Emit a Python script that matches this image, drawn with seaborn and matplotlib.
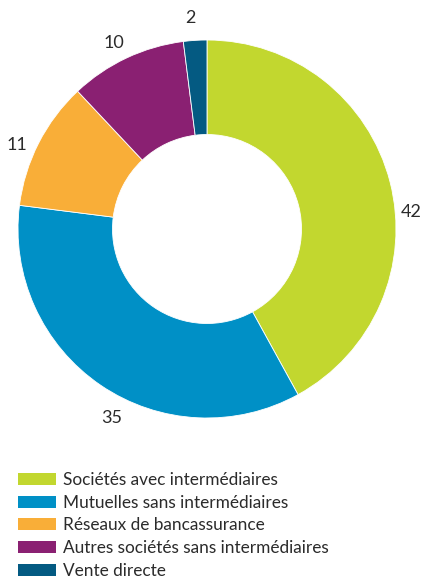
import matplotlib
matplotlib.use("Agg")
import matplotlib.pyplot as plt
from matplotlib.patches import Patch
import numpy as np
import seaborn as sns

categories = [
    "Sociétés avec intermédiaires",
    "Mutuelles sans intermédiaires",
    "Réseaux de bancassurance",
    "Autres sociétés sans intermédiaires",
    "Vente directe",
]
values = [42, 35, 11, 10, 2]
colors = ["#c2d72f", "#0090c6", "#f9ae38", "#8a2072", "#045a82"]
# where along each slice (0 = start, 1 = end) its value label sits, and how far out
label_pos = [0.564, 0.44, 0.42, 0.46, 0.36]
label_r = [1.083, 1.12, 1.10, 1.10, 1.12]

sns.set_theme(style="white")
plt.rcParams["font.family"] = ["Lato", "DejaVu Sans"]
text_color = "#2b2b2b"

W, H = 421, 579
fig = plt.figure(figsize=(W / 100, H / 100), dpi=100)
cx, cy, R = 207, 229, 189
ax = fig.add_axes([(cx - R) / W, (H - cy - R) / H, 2 * R / W, 2 * R / H])

ax.pie(values, colors=colors, startangle=90, counterclock=False, radius=1.0,
       wedgeprops=dict(width=0.5, edgecolor="white", linewidth=0.6))
ax.set_xlim(-1, 1)
ax.set_ylim(-1, 1)
ax.set_aspect("equal")
ax.axis("off")

total = sum(values)
start = 0.0
for v, p, r in zip(values, label_pos, label_r):
    frac = (start + p * v) / total
    ang = np.deg2rad(90 - 360 * frac)
    ax.text(r * np.cos(ang), r * np.sin(ang), str(v), ha="center", va="center",
            fontsize=13, color=text_color)
    start += v

handles = [Patch(facecolor=c, edgecolor="none") for c in colors]
fig.legend(handles, categories, loc="upper left",
           bbox_to_anchor=(18 / W, 1 - 472 / H), frameon=False,
           fontsize=12.4, handlelength=2.2, handleheight=0.7, handletextpad=0.4,
           labelspacing=0.39, borderaxespad=0, borderpad=0,
           labelcolor=text_color)

fig.savefig("out.png", dpi=100)
